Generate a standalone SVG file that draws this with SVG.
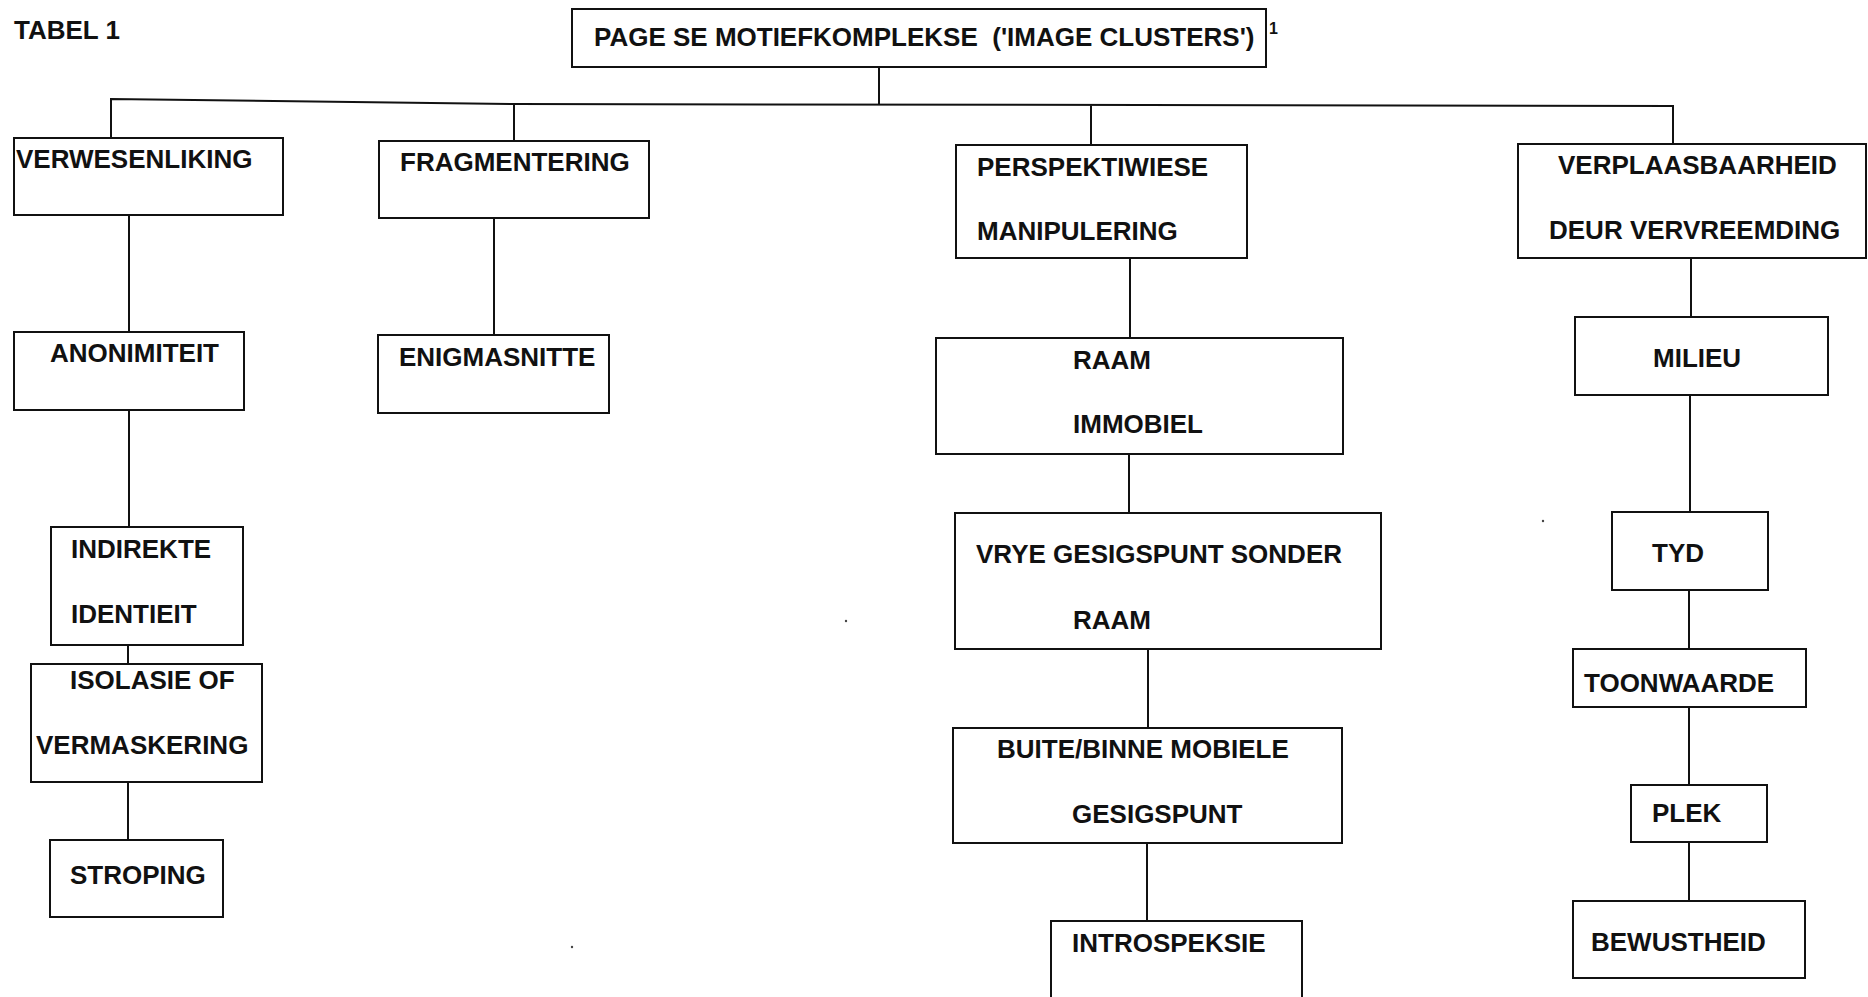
<svg xmlns="http://www.w3.org/2000/svg" width="1868" height="997" viewBox="0 0 1868 997">
  <style>
    .box { fill: #fff; stroke: #111; stroke-width: 2; }
    .wire { fill: none; stroke: #111; stroke-width: 2; }
    .lbl { font-family: "Liberation Sans", Arial, sans-serif; font-weight: bold; font-size: 26px; fill: #111; }
    .sup { font-family: "Liberation Sans", Arial, sans-serif; font-weight: bold; font-size: 16px; fill: #111; }
    .speck { fill: #444; }
  </style>
  <rect width="1868" height="997" fill="#fff"/>

  <text class="lbl" x="14" y="39">TABEL 1</text>

  <!-- connectors -->
  <g id="connectors">
    <path class="wire" d="M879,67 V105"/>
    <path class="wire" d="M111,138 V99 L514,104 L1673,106 V144"/>
    <path class="wire" d="M514,104 V141"/>
    <path class="wire" d="M1091,105.5 V145"/>
    <path class="wire" d="M129,215 V332"/>
    <path class="wire" d="M129,410 V527"/>
    <path class="wire" d="M128,645 V664"/>
    <path class="wire" d="M128,782 V840"/>
    <path class="wire" d="M494,218 V335"/>
    <path class="wire" d="M1130,258 V338"/>
    <path class="wire" d="M1129,454 V513"/>
    <path class="wire" d="M1148,649 V728"/>
    <path class="wire" d="M1147,843 V921"/>
    <path class="wire" d="M1691,258 V317"/>
    <path class="wire" d="M1690,395 V512"/>
    <path class="wire" d="M1689,590 V649"/>
    <path class="wire" d="M1689,707 V785"/>
    <path class="wire" d="M1689,842 V901"/>
  </g>

  <!-- root -->
  <g id="root">
    <rect class="box" x="572" y="9" width="694" height="58"/>
    <text class="lbl" x="594" y="46" xml:space="preserve">PAGE SE MOTIEFKOMPLEKSE  ('IMAGE CLUSTERS')</text>
    <text class="sup" x="1269" y="34">1</text>
  </g>

  <!-- first level -->
  <g id="verwesenliking">
    <rect class="box" x="14" y="138" width="269" height="77"/>
    <text class="lbl" x="16" y="168">VERWESENLIKING</text>
  </g>
  <g id="fragmentering">
    <rect class="box" x="379" y="141" width="270" height="77"/>
    <text class="lbl" x="400" y="171">FRAGMENTERING</text>
  </g>
  <g id="perspektiwiese">
    <rect class="box" x="956" y="145" width="291" height="113"/>
    <text class="lbl" x="977" y="176">PERSPEKTIWIESE</text>
    <text class="lbl" x="977" y="240">MANIPULERING</text>
  </g>
  <g id="verplaasbaarheid">
    <rect class="box" x="1518" y="144" width="348" height="114"/>
    <text class="lbl" x="1558" y="174">VERPLAASBAARHEID</text>
    <text class="lbl" x="1549" y="239">DEUR VERVREEMDING</text>
  </g>

  <!-- left column -->
  <g id="anonimiteit">
    <rect class="box" x="14" y="332" width="230" height="78"/>
    <text class="lbl" x="50" y="362">ANONIMITEIT</text>
  </g>
  <g id="indirekte">
    <rect class="box" x="51" y="527" width="192" height="118"/>
    <text class="lbl" x="71" y="558">INDIREKTE</text>
    <text class="lbl" x="71" y="623">IDENTIEIT</text>
  </g>
  <g id="isolasie">
    <rect class="box" x="31" y="664" width="231" height="118"/>
    <text class="lbl" x="70" y="689">ISOLASIE OF</text>
    <text class="lbl" x="36" y="754">VERMASKERING</text>
  </g>
  <g id="stroping">
    <rect class="box" x="50" y="840" width="173" height="77"/>
    <text class="lbl" x="70" y="884">STROPING</text>
  </g>

  <!-- second column -->
  <g id="enigmasnitte">
    <rect class="box" x="378" y="335" width="231" height="78"/>
    <text class="lbl" x="399" y="366">ENIGMASNITTE</text>
  </g>

  <!-- third column -->
  <g id="raam-immobiel">
    <rect class="box" x="936" y="338" width="407" height="116"/>
    <text class="lbl" x="1073" y="369">RAAM</text>
    <text class="lbl" x="1073" y="433">IMMOBIEL</text>
  </g>
  <g id="vrye-gesigspunt">
    <rect class="box" x="955" y="513" width="426" height="136"/>
    <text class="lbl" x="976" y="563">VRYE GESIGSPUNT SONDER</text>
    <text class="lbl" x="1073" y="629">RAAM</text>
  </g>
  <g id="buite-binne">
    <rect class="box" x="953" y="728" width="389" height="115"/>
    <text class="lbl" x="997" y="758">BUITE/BINNE MOBIELE</text>
    <text class="lbl" x="1072" y="823">GESIGSPUNT</text>
  </g>
  <g id="introspeksie">
    <rect class="box" x="1051" y="921" width="251" height="90"/>
    <text class="lbl" x="1072" y="952">INTROSPEKSIE</text>
  </g>

  <!-- right column -->
  <g id="milieu">
    <rect class="box" x="1575" y="317" width="253" height="78"/>
    <text class="lbl" x="1653" y="367">MILIEU</text>
  </g>
  <g id="tyd">
    <rect class="box" x="1612" y="512" width="156" height="78"/>
    <text class="lbl" x="1652" y="562">TYD</text>
  </g>
  <g id="toonwaarde">
    <rect class="box" x="1573" y="649" width="233" height="58"/>
    <text class="lbl" x="1584" y="692">TOONWAARDE</text>
  </g>
  <g id="plek">
    <rect class="box" x="1631" y="785" width="136" height="57"/>
    <text class="lbl" x="1652" y="822">PLEK</text>
  </g>
  <g id="bewustheid">
    <rect class="box" x="1573" y="901" width="232" height="77"/>
    <text class="lbl" x="1591" y="951">BEWUSTHEID</text>
  </g>

  <!-- stray specks on the sheet -->
  <circle class="speck" cx="572" cy="947" r="1.2"/>
  <circle class="speck" cx="846" cy="621" r="1.2"/>
  <circle class="speck" cx="1543" cy="521" r="1.2"/>
</svg>
